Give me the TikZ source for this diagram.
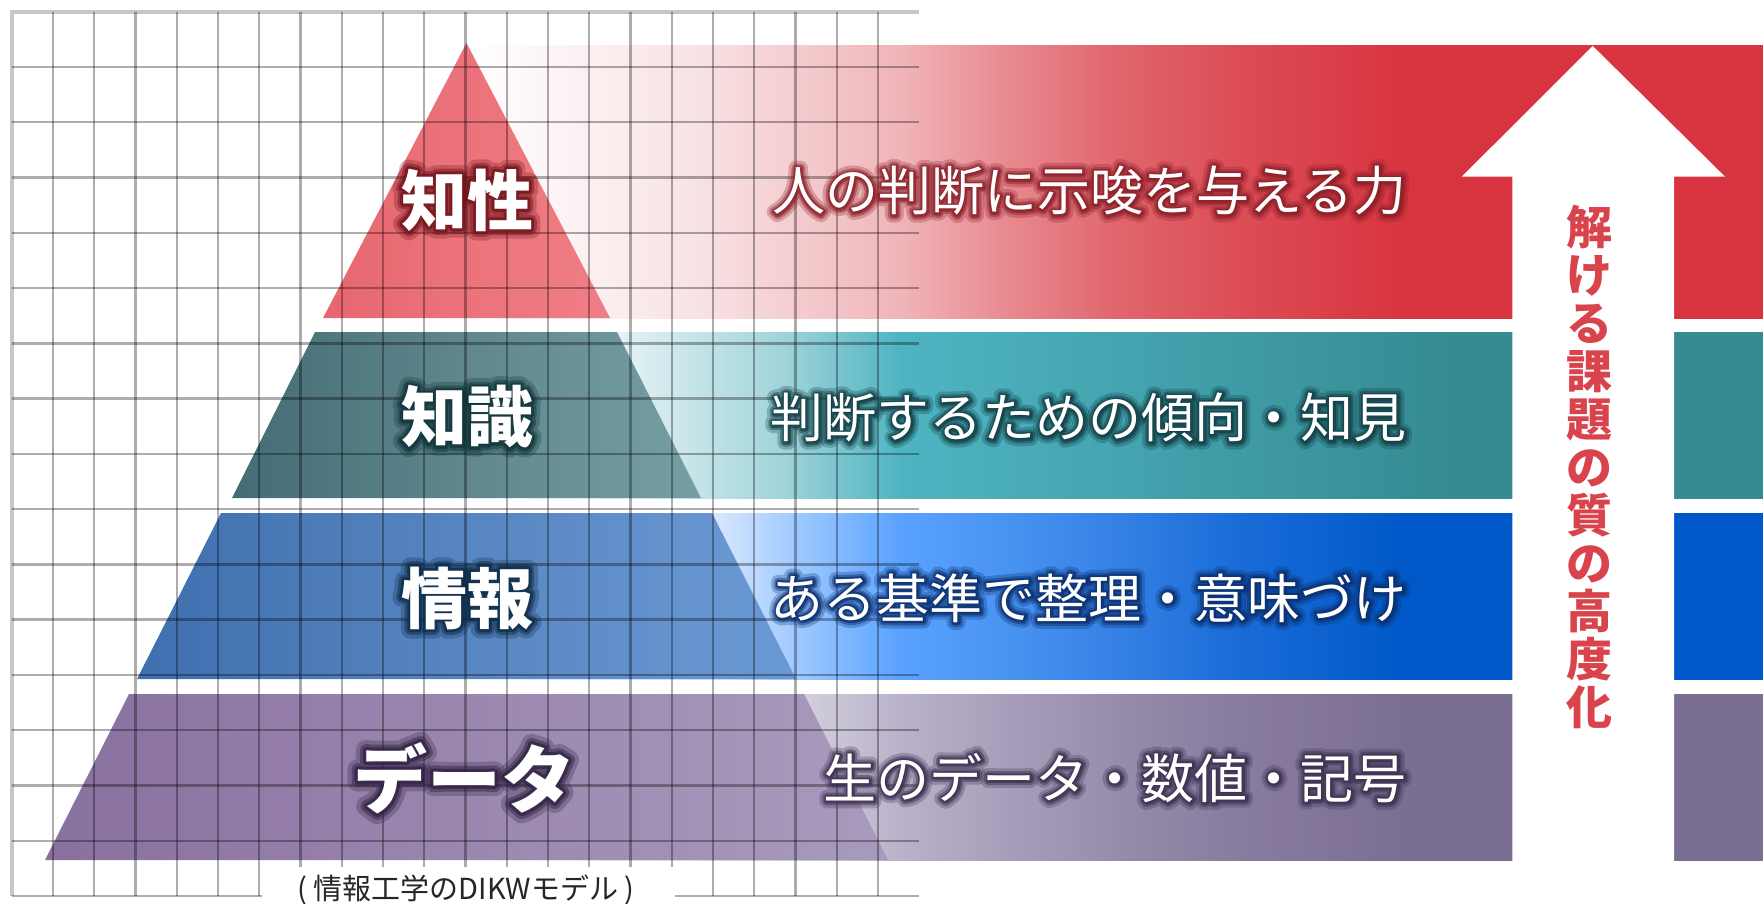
\documentclass[tikz,border=0pt]{standalone}
\usepackage{fontspec}
\newfontfamily\jp{Noto Sans CJK JP}
\newfontfamily\jpgW{Noto Sans CJK JP}[FakeBold=28,BoldFeatures={FakeBold=28}]
\newfontfamily\jpgM{Noto Sans CJK JP}[FakeBold=17,BoldFeatures={FakeBold=17}]
\newfontfamily\jpgN{Noto Sans CJK JP}[FakeBold=9,BoldFeatures={FakeBold=9}]
\usetikzlibrary{calc}
% band colours
\definecolor{rA}{HTML}{F8E2E4}\definecolor{rB}{HTML}{F0B5B9}\definecolor{rC}{HTML}{E8888E}
\definecolor{rD}{HTML}{E0646C}\definecolor{rE}{HTML}{DC4D56}\definecolor{rF}{HTML}{D8343F}
\definecolor{tA}{HTML}{E4F2F4}\definecolor{tB}{HTML}{9FD3DA}\definecolor{tC}{HTML}{4FB4C2}
\definecolor{tD}{HTML}{44A4B0}\definecolor{tE}{HTML}{388E97}\definecolor{tF}{HTML}{368B93}
\definecolor{bA}{HTML}{D3E5FF}\definecolor{bB}{HTML}{8FC1FF}\definecolor{bC}{HTML}{5AA2FF}
\definecolor{bD}{HTML}{4892F0}\definecolor{bE}{HTML}{3480E4}\definecolor{bF}{HTML}{1A6CD8}\definecolor{bG}{HTML}{0058C8}
\definecolor{pA}{HTML}{D4D0DE}\definecolor{pB}{HTML}{B9B2CA}\definecolor{pC}{HTML}{A79DBA}
\definecolor{pD}{HTML}{978BAB}\definecolor{pE}{HTML}{887C9F}\definecolor{pF}{HTML}{7B6E93}
% pyramid colours
\definecolor{pyrL}{HTML}{E65A64}\definecolor{pyrR}{HTML}{EF757D}
\definecolor{pytL}{HTML}{35606A}\definecolor{pytM}{HTML}{46727A}\definecolor{pytR}{HTML}{6F9A9D}
\definecolor{pybL}{HTML}{2F63A8}\definecolor{pybM}{HTML}{457AB9}\definecolor{pybR}{HTML}{6595D2}
\definecolor{pypL}{HTML}{7F6497}\definecolor{pypM}{HTML}{8C76A3}\definecolor{pypR}{HTML}{A698BB}
% glow colours
\definecolor{gRed}{HTML}{6E1218}\definecolor{gTeal}{HTML}{0E3338}
\definecolor{gBlue}{HTML}{0C2A45}\definecolor{gPur}{HTML}{2E2040}
\definecolor{gbRed}{HTML}{8C1F28}\definecolor{gbTeal}{HTML}{123F45}
\definecolor{gbBlue}{HTML}{0A2E6E}\definecolor{gbPur}{HTML}{3B2F4F}
\definecolor{vred}{HTML}{D9434C}
\pgfdeclarehorizontalshading{redband}{100bp}{color(0bp)=(white); color(25bp)=(white); color(34bp)=(rA); color(41.7bp)=(rB); color(46bp)=(rC); color(50.3bp)=(rD); color(54.7bp)=(rE); color(61.2bp)=(rF); color(100bp)=(rF)}
\pgfdeclarehorizontalshading{tealband}{100bp}{color(0bp)=(white); color(25bp)=(white); color(30.9bp)=(tA); color(37.3bp)=(tB); color(41.7bp)=(tC); color(50.3bp)=(tD); color(61.2bp)=(tE); color(62.9bp)=(tF); color(100bp)=(tF)}
\pgfdeclarehorizontalshading{blueband}{100bp}{color(0bp)=(white); color(25bp)=(white); color(34.8bp)=(bA); color(38.6bp)=(bB); color(41.7bp)=(bC); color(46bp)=(bD); color(50.3bp)=(bE); color(54.7bp)=(bF); color(61.2bp)=(bG); color(100bp)=(bG)}
\pgfdeclarehorizontalshading{purband}{100bp}{color(0bp)=(white); color(25bp)=(white); color(37.8bp)=(pA); color(41.7bp)=(pB); color(46bp)=(pC); color(50.3bp)=(pD); color(54.7bp)=(pE); color(61.2bp)=(pF); color(100bp)=(pF)}
% glowing label: name, position, node style, glow colour, text, font size/weight
\newcommand\glowlabel[6]{%
  \node[#3,line join=round,font=\jpgW#6,text=#4,opacity=0.28,text opacity=0.28] at (#2) {#5};
  \node[#3,line join=round,font=\jpgM#6,text=#4,opacity=0.45,text opacity=0.45] at (#2) {#5};
  \node[#3,line join=round,font=\jpgN#6,text=#4,opacity=0.7,text opacity=0.7] at (#2) {#5};
  \node[#3,font=\jp#6,text=white] (#1) at (#2) {#5};}
\tikzset{
  layer/.style={fill opacity=0.92},
  gridline/.style={draw=black,draw opacity=0.32,line width=2.4pt},
  gridborder/.style={draw=black,draw opacity=0.22,line width=3.8pt},
  lbl/.style={inner sep=0pt},
  bandtext/.style={inner sep=0pt,anchor=east},
}
\newcommand\bigsize{\bfseries\fontsize{66}{70}\selectfont}
\newcommand\datasize{\bfseries\fontsize{74}{78}\selectfont}
\newcommand\bandsize{\fontsize{53}{56}\selectfont}
\begin{document}
\begin{tikzpicture}[x=1pt,y=-1pt]
\useasboundingbox (0,0) rectangle (1763,903);
\fill[white] (0,0) rectangle (1763,903);
% bands
\shade[shading=redband] (467,45) rectangle (1763,318);
\shade[shading=tealband] (467,332) rectangle (1763,498);
\shade[shading=blueband] (467,513) rectangle (1763,679);
\shade[shading=purband] (467,694) rectangle (1763,860);
% pyramid
\shade[layer,left color=pyrL,right color=pyrR] (466.5,43) -- (610,318) -- (323,318) -- cycle;
\shade[layer,left color=pytL,middle color=pytM,right color=pytR] (315,332) -- (617,332) -- (701,498) -- (232,498) -- cycle;
\shade[layer,left color=pybL,middle color=pybM,right color=pybR] (221,513) -- (712,513) -- (796,679) -- (137,679) -- cycle;
\shade[layer,left color=pypL,middle color=pypM,right color=pypR] (129,694) -- (804,694) -- (888,860) -- (45,860) -- cycle;
% grid
\foreach \i in {1,...,21} \draw[gridline] (11.7+\i*41.25,11.7) -- (11.7+\i*41.25,896);
\foreach \j in {1,...,16} \draw[gridline] (11.7,11.7+\j*55.27) -- (919.2,11.7+\j*55.27);
\draw[gridborder] (919.2,11.7) -- (11.7,11.7) -- (11.7,896);
% caption box and caption
\fill[white] (262,867) rectangle (675,903);
\node[font=\jp\fontsize{29}{32}\selectfont,text=black!85,inner sep=0pt] (cap) at (466,890) {( 情報工学のDIKWモデル )};
% pyramid labels
\glowlabel{lw}{467,200}{lbl}{gRed}{知性}{\bigsize}
\glowlabel{lk}{467,417}{lbl}{gTeal}{知識}{\bigsize}
\glowlabel{li}{467,598}{lbl}{gBlue}{情報}{\bigsize}
\glowlabel{ld}{464,778}{lbl}{gPur}{データ}{\datasize}
% band texts
\glowlabel{tw}{1407,191}{bandtext}{gbRed}{人の判断に示唆を与える力}{\bandsize}
\glowlabel{tk}{1407,418}{bandtext}{gbTeal}{判断するための傾向・知見}{\bandsize}
\glowlabel{ti}{1407,598}{bandtext}{gbBlue}{ある基準で整理・意味づけ}{\bandsize}
\glowlabel{td}{1407,778}{bandtext}{gbPur}{生のデータ・数値・記号}{\bandsize}
% arrow
\fill[white] (1592.7,46) -- (1725,176.7) -- (1674,176.7) -- (1674,870) -- (1512.3,870) -- (1512.3,176.7) -- (1461.7,176.7) -- cycle;
\node[font=\jp\bfseries\fontsize{46}{48}\selectfont,text=vred,align=center,inner sep=0pt] (vt) at (1589,467) {解\\け\\る\\課\\題\\の\\質\\の\\高\\度\\化};
\end{tikzpicture}
\end{document}
